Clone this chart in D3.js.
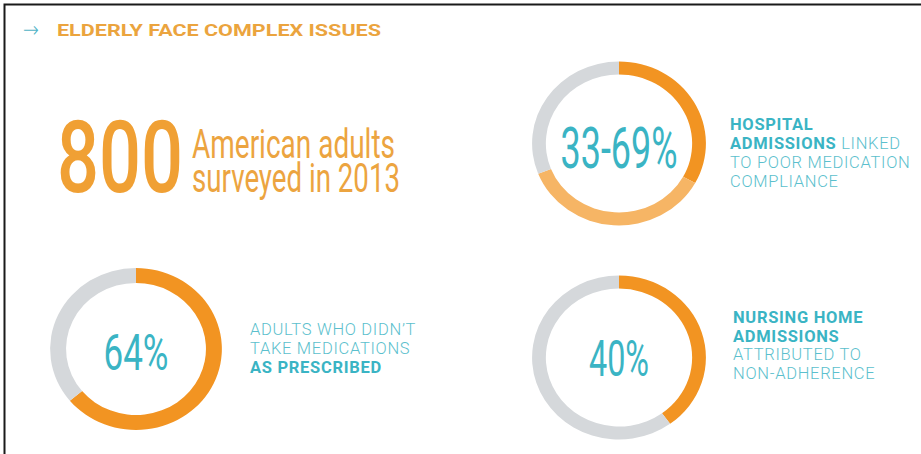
<!DOCTYPE html>
<html>
<head>
<meta charset="utf-8">
<script src="https://cdn.jsdelivr.net/npm/d3@7"></script>
<style>
  body { margin: 0; background: #fff; }
  svg { display: block; }
</style>
</head>
<body>
<svg id="chart" width="921" height="454"></svg>
<script>
// DATA
var titleText = "ELDERLY FACE COMPLEX ISSUES";
var surveyCount = "800";
var surveyLines = ["American adults", "surveyed in 2013"];

var donutLabels = ["33-69%", "64%", "40%"];
// segment values (percent), drawn clockwise from 12 o'clock
var donutValues = [
    [33, 36, 31],
    [64, 36],
    [40, 60]
];
// which colour each segment uses
var donutKinds = [
    ["main", "light", "rest"],
    ["main", "rest"],
    ["main", "rest"]
];
// description lines, each made of [text, bold] pieces
var donutNotes = [
    [[["HOSPITAL", true]], [["ADMISSIONS", true], [" LINKED", false]], [["TO POOR MEDICATION", false]], [["COMPLIANCE", false]]],
    [[["ADULTS WHO DIDN\u2019T", false]], [["TAKE MEDICATIONS", false]], [["AS PRESCRIBED", true]]],
    [[["NURSING HOME", true]], [["ADMISSIONS", true]], [["ATTRIBUTED TO", false]], [["NON-ADHERENCE", false]]]
];

// LAYOUT
var W = 921, H = 454;
var ORANGE = "#f0a034";
var TEAL = "#3ab4c4";
var TEAL_LIGHT = "#5cbfcd";
var FONT = "Roboto, 'Liberation Sans', sans-serif";

var colour = d3.scaleOrdinal()
    .domain(["main", "light", "rest"])
    .range(["#f29422", "#f6b565", "#d5d8db"]);

var donutPos = [
    {cx: 619, cy: 143.5, r: 82, w: 13, labelY: 168, labelW: 117, labelSize: 58},
    {cx: 136, cy: 349, r: 81, w: 15, labelY: 370, labelW: 65, labelSize: 50},
    {cx: 619, cy: 357.5, r: 82, w: 13, labelY: 376, labelW: 60, labelSize: 50}
];
var notePos = [
    {x: 730, y: 130, lh: 19},
    {x: 250, y: 335, lh: 19},
    {x: 733, y: 323, lh: 18.5}
];
var SX = 1.06; // picture is slightly stretched sideways

var svg = d3.select("#chart");

svg.append("rect").attr("width", W).attr("height", H).attr("fill", "#fff");

// frame (top and left edges only are visible)
svg.append("path")
    .attr("d", "M4.5," + H + "V4.5H" + W)
    .attr("fill", "none")
    .attr("stroke", "#1a1a1a")
    .attr("stroke-width", 2);

// TITLE
svg.append("text")
    .attr("x", 23).attr("y", 37)
    .attr("font-family", "'DejaVu Sans', sans-serif")
    .attr("font-size", 22)
    .attr("font-weight", 300)
    .attr("fill", "#4fb3c6")
    .attr("textLength", 16)
    .attr("lengthAdjust", "spacingAndGlyphs")
    .text("\u2192");

svg.append("text")
    .attr("x", 57).attr("y", 36)
    .attr("font-family", FONT)
    .attr("font-weight", 700)
    .attr("font-size", 16.5)
    .attr("fill", "#eba43e")
    .attr("textLength", 324)
    .attr("lengthAdjust", "spacingAndGlyphs")
    .text(titleText);

// 800 AMERICAN ADULTS
svg.append("text")
    .attr("x", 57).attr("y", 192)
    .attr("font-family", FONT)
    .attr("font-weight", 500)
    .attr("font-size", 100)
    .attr("fill", ORANGE)
    .attr("textLength", 126)
    .attr("lengthAdjust", "spacingAndGlyphs")
    .text(surveyCount);

var surveyW = [203, 208];
svg.selectAll("text.survey")
    .data(surveyLines)
    .enter()
    .append("text")
    .attr("class", "survey")
    .attr("x", 192)
    .attr("y", function(d, i){ return 158 + i * 34; })
    .attr("font-family", FONT)
    .attr("font-size", 40)
    .attr("fill", "#eca440")
    .attr("textLength", function(d, i){ return surveyW[i]; })
    .attr("lengthAdjust", "spacingAndGlyphs")
    .text(function(d){ return d; });

// DONUTS
var pie = d3.pie().sort(null).value(function(d){ return d.v; });

donutValues.forEach(function(vals, k){
    var p = donutPos[k];
    var arc = d3.arc().innerRadius(p.r - p.w).outerRadius(p.r);
    var g = svg.append("g")
        .attr("transform", "translate(" + p.cx + "," + p.cy + ") scale(" + SX + ",1)");
    var rows = vals.map(function(v, i){ return {v: v, kind: donutKinds[k][i]}; });
    g.selectAll("path")
        .data(pie(rows))
        .enter()
        .append("path")
        .attr("d", arc)
        .attr("fill", function(d){ return colour(d.data.kind); });

    svg.append("text")
        .attr("x", p.cx).attr("y", p.labelY)
        .attr("text-anchor", "middle")
        .attr("font-family", FONT)
        .attr("font-size", p.labelSize)
        .attr("fill", TEAL)
        .attr("textLength", p.labelW)
        .attr("lengthAdjust", "spacingAndGlyphs")
        .text(donutLabels[k]);

    // description
    var np = notePos[k];
    var t = svg.append("g");
    donutNotes[k].forEach(function(line, li){
        var txt = t.append("text")
            .attr("x", np.x)
            .attr("y", np.y + li * np.lh)
            .attr("font-family", FONT)
            .attr("font-size", 16.5)
            .attr("letter-spacing", 0.7);
        line.forEach(function(piece){
            txt.append("tspan")
                .attr("font-weight", piece[1] ? 700 : 300)
                .attr("fill", piece[1] ? TEAL : TEAL_LIGHT)
                .text(piece[0]);
        });
    });
});
</script>
</body>
</html>
